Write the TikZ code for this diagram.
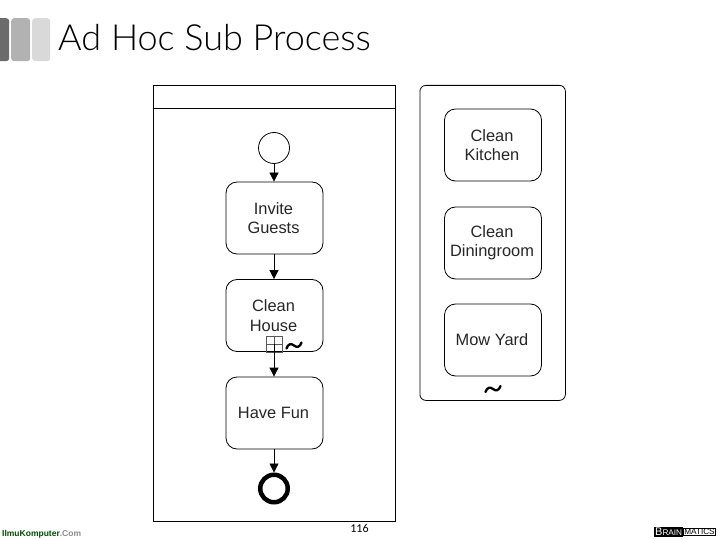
\documentclass[tikz,border=0pt]{standalone}
\usepackage{fontspec}
\setmainfont{Liberation Sans}
\newfontfamily\titlefont{Lato Light}
\newfontfamily\pagefont{Carlito}
\usetikzlibrary{arrows.meta,calc}
\newcommand{\tildeshape}{(-7.5,3) .. controls (-6,-1.5) and (-3,-2.5) .. (0,0) .. controls (3,2.5) and (6,1.5) .. (7.5,-3)}
\tikzset{
  task/.style={draw=black,line width=0.8pt,rounded corners=11pt,minimum width=97pt,minimum height=72pt,inner sep=0pt,align=center,font=\fontsize{16.4}{19.5}\selectfont,text=black!85},
  flow/.style={draw=black,line width=0.8pt,-{Triangle[length=9pt,width=9pt]}},
  tildemark/.style={draw=black,line width=2.3pt,line cap=round},
  band/.style={rounded corners=3pt,draw=none,inner sep=0pt}
}
\begin{document}
\begin{tikzpicture}[x=1pt,y=-1pt]
\useasboundingbox (0,0) rectangle (720,540);
\fill[white] (0,0) rectangle (720,540);
% title decoration
\begin{scope}
\clip (0,0) rectangle (720,540);
\node[band,fill=black!58,minimum width=15pt,minimum height=43pt,anchor=north west] (b1) at (-6,18) {};
\end{scope}
\node[band,fill=black!30,minimum width=19pt,minimum height=43pt,anchor=north west] (b2) at (11,18) {};
\node[band,fill=black!15,minimum width=18pt,minimum height=43pt,anchor=north west] (b3) at (32,18) {};
\node[anchor=base west,inner sep=0pt,font=\titlefont\fontsize{36}{40}\selectfont,text=black] (title) at (58,51) {Ad Hoc Sub Process};
% pool
\node[draw=black,line width=0.8pt,minimum width=242pt,minimum height=436pt,inner sep=0pt,anchor=north west] (pool) at (152.5,85) {};
\coordinate (hl) at (152.5,108.5);
\coordinate (hr) at (394.5,108.5);
\draw[line width=0.8pt] (hl) -- (hr);
% right group
\node[draw=black,line width=0.8pt,rounded corners=6pt,minimum width=145.5pt,minimum height=315pt,inner sep=0pt,anchor=north west] (group) at (419.5,85) {};
% nodes
\node[draw=black,circle,line width=0.8pt,minimum size=31pt,inner sep=0pt] (start) at (274,148) {};
\node[task] (invite) at (274.5,218) {\kern-2pt Invite\\\kern-2pt Guests};
\node[task] (house) at (274.5,315.5) {\kern-2pt Clean\\\kern-2pt House};
\node[task] (fun) at (274.5,413) {\kern-2pt Have Fun};
\node[draw=black,circle,line width=4.5pt,minimum size=27.5pt,inner sep=0pt] (end) at (274,488.5) {};
\node[task] (kitchen) at (493,145) {\kern-2pt Clean\\\kern-2pt Kitchen};
\node[task] (dining) at (493,243) {\kern-2pt Clean\\\kern-2pt Diningroom};
\node[task] (yard) at (493,340) {\kern-2pt Mow Yard};
% markers
\node[draw=black!65,line width=0.8pt,minimum size=16pt,inner sep=0pt] (plus) at (274,344) {};
\draw[black!65,line width=0.8pt] (plus.west) -- (plus.east);
\draw[black!65,line width=0.8pt] (plus.north) -- (plus.south);
\coordinate (t1) at (294,345.5);
\draw[tildemark,shift={(t1)}] \tildeshape;
\coordinate (t2) at (493,389);
\draw[tildemark,shift={(t2)}] \tildeshape;
% flows
\draw[flow] (start) -- (start|-invite.north);
\draw[flow] (invite.south-|start) -- (start|-house.north);
\draw[flow] (plus.center) -- (start|-fun.north);
\draw[flow] (fun.south-|start) -- (end);
% footer
\node[anchor=base,inner sep=0pt,font=\pagefont\fontsize{12}{14}\selectfont] (page) at (359.5,532) {116};
\node[anchor=base west,inner sep=0pt,font=\bfseries\fontsize{8.5}{10}\selectfont,text=green!30!black] (logoa) at (2,536) {IlmuKomputer\textcolor{black!45}{.Com}};
\node[fill=black,text=white,anchor=base west,inner sep=1pt,font=\fontsize{11}{11}\selectfont] (logob) at (654,535.5) {B\fontsize{8.2}{11}\selectfont RAIN};
\node[draw=black,fill=white,text=black,anchor=west,inner sep=0.7pt,font=\fontsize{8.2}{11}\selectfont,line width=0.6pt] (logoc) at (logob.east) {MATICS};
\end{tikzpicture}
\end{document}
